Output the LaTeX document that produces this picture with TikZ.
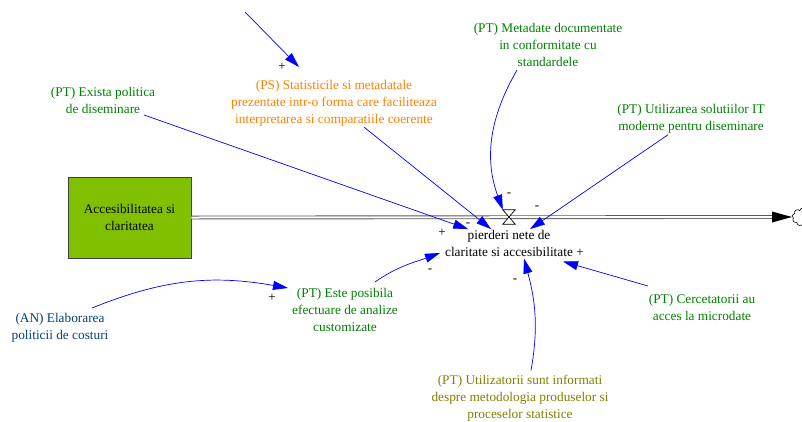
\documentclass[tikz,border=0pt]{standalone}
\usepackage{fontspec}
\setmainfont{Liberation Serif}
\newfontfamily\labelfont{Liberation Serif}
\usetikzlibrary{arrows.meta,shapes.symbols}
\definecolor{ptgreen}{RGB}{0,128,0}
\definecolor{psorange}{RGB}{255,128,0}
\definecolor{olivetext}{RGB}{128,128,0}
\definecolor{anblue}{RGB}{0,64,128}
\definecolor{linkblue}{RGB}{0,0,255}
\definecolor{stockgreen}{RGB}{128,192,0}
\begin{document}
\begin{tikzpicture}[x=1pt,y=-1pt,
  lbl/.style={align=center, inner sep=1pt, font=\labelfont\fontsize{13.3}{17}\selectfont},
  stockbox/.style={lbl, draw=black!75, fill=stockgreen, line width=0.9pt, minimum width=123pt, minimum height=81pt},
  valvenode/.style={minimum width=12pt, minimum height=14pt, inner sep=0pt},
  sinkcloud/.style={cloud, cloud puffs=9, draw=black, line width=0.6pt, minimum width=22pt, minimum height=18pt, inner sep=0pt},
  pipe/.style={draw=black!65, double=white, double distance=2pt, line width=0.9pt},
  link/.style={draw=linkblue, line width=0.7pt, -{Triangle[length=15pt,width=9pt]}},
  pol/.style={inner sep=0pt, font=\labelfont\fontsize{13}{13}\selectfont}]
\useasboundingbox (0,0) rectangle (802,421);

% stock, flow, valve, sink
\node[stockbox] (stock) at (129.5,217.5) {Accesibilitatea si\\claritatea};
\node[lbl] (flow) at (509,243.5) {pierderi nete de\\claritate si accesibilitate};
\node[valvenode] (valve) at (509,217) {};
\coordinate (pipeend) at (772,217);
\node[sinkcloud] (sink) at (803,217) {};
\draw[pipe] (stock.east) -- (pipeend);
\filldraw[fill=white, draw=black, line width=0.7pt] (valve.north west) -- (valve.north east) -- (valve.south west) -- (valve.south east) -- cycle;
\fill[black] ([yshift=5.5pt]pipeend) -- ([xshift=20pt]pipeend) -- ([yshift=-5.5pt]pipeend) -- cycle;

% auxiliary variables
\node[lbl, text=ptgreen] (exista) at (103,100.5) {(PT) Exista politica\\de diseminare};
\node[lbl, text=psorange] (ps) at (334,103) {(PS) Statisticile si metadatale\\prezentate intr-o forma care faciliteaza\\interpretarea si comparatiile coerente};
\node[lbl, text=ptgreen] (meta) at (548,45) {(PT) Metadate documentate\\in conformitate cu\\standardele};
\node[lbl, text=ptgreen] (itsol) at (691,119) {(PT) Utilizarea solutiilor IT\\moderne pentru diseminare};
\node[lbl, text=ptgreen] (cerc) at (702,307.5) {(PT) Cercetatorii au\\acces la microdate};
\node[lbl, text=olivetext] (utiliz) at (520,398.5) {(PT) Utilizatorii sunt informati\\despre metodologia produselor si\\proceselor statistice};
\node[lbl, text=ptgreen] (este) at (345,310) {(PT) Este posibila\\efectuare de analize\\customizate};
\node[lbl, text=anblue] (an) at (60,328) {(AN) Elaborarea\\politicii de costuri};
\coordinate (topsrc) at (245,12);

% links
\draw[link] (topsrc) -- ([shift={(-35,-36)}]ps.center);
\draw[link] (exista) -- (flow);
\draw[link] (ps) -- (flow);
\draw[link] (itsol) -- (flow);
\draw[link] ([shift={(-54,-21.5)}]cerc.center) -- ([shift={(54,18)}]flow.center);
\draw[link] ([shift={(-31,25)}]meta.center) to[out=240,in=110] (valve.north west);
\draw[link] ([shift={(11,-28)}]utiliz.center) to[out=80,in=-75] ([shift={(15,15)}]flow.center);
\draw[link] ([shift={(30,-28)}]este.center) to[out=35,in=200] ([shift={(-69,9.5)}]flow.center);
\draw[link] ([shift={(32,-20)}]an.center) to[out=22,in=170] ([shift={(-57,-22)}]este.center);

% polarities
\node[pol] (s1) at (282,67) {+};
\node[pol] (s2) at (509,195) {-};
\node[pol] (s3) at (537,208) {-};
\node[pol] (s4) at (442,233) {+};
\node[pol] (s5) at (468,225) {-};
\node[pol] (s6) at (580,253) {+};
\node[pol] (s7) at (430,271) {-};
\node[pol] (s8) at (515,281) {-};
\node[pol] (s9) at (272,298) {+};
\end{tikzpicture}
\end{document}
